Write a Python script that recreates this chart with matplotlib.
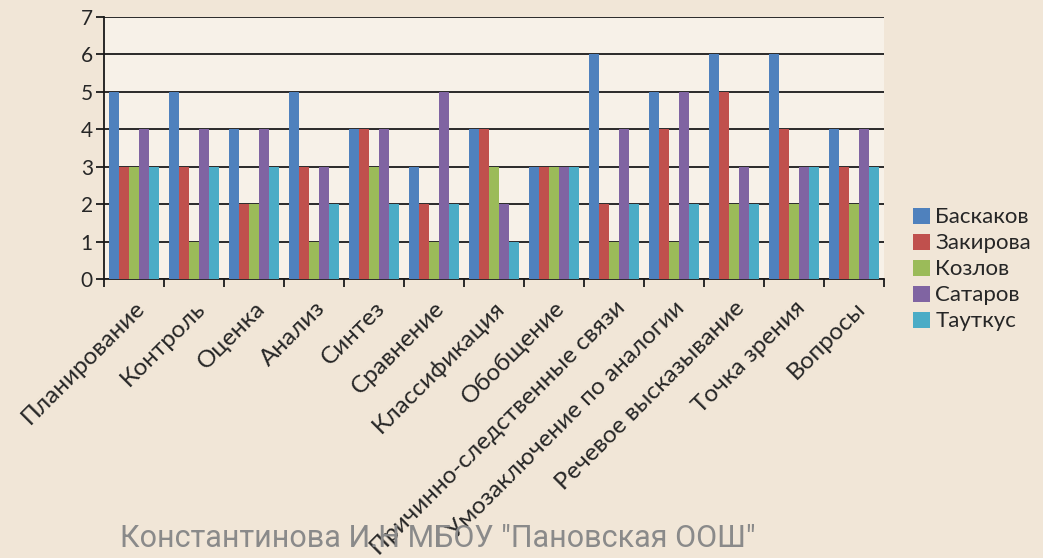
import matplotlib
matplotlib.use('Agg')
import matplotlib.pyplot as plt
import numpy as np

plt.rcParams['font.family'] = ['Lato', 'DejaVu Sans']

# === данные ===
categories = ['Планирование', 'Контроль', 'Оценка', 'Анализ', 'Синтез', 'Сравнение',
              'Классификация', 'Обобщение', 'Причинно-следственные связи',
              'Умозаключение по аналогии', 'Речевое высказывание', 'Точка зрения', 'Вопросы']
names = ['Баскаков', 'Закирова', 'Козлов', 'Сатаров', 'Тауткус']
baskakov = [5, 5, 4, 5, 4, 3, 4, 3, 6, 5, 6, 6, 4]
zakirova = [3, 3, 2, 3, 4, 2, 4, 3, 2, 4, 5, 4, 3]
kozlov   = [3, 1, 2, 1, 3, 1, 3, 3, 1, 1, 2, 2, 2]
satarov  = [4, 4, 4, 3, 4, 5, 2, 3, 4, 5, 3, 3, 4]
tautkus  = [3, 3, 3, 2, 2, 2, 1, 3, 2, 2, 2, 3, 3]
series = [baskakov, zakirova, kozlov, satarov, tautkus]
colors = ['#4F81BD', '#C0504D', '#9BBB59', '#8064A2', '#4BACC6']

fig = plt.figure(figsize=(10.43, 5.58), dpi=100)
fig.patch.set_facecolor('#f1e6d7')
ax = fig.add_axes([0.0997, 0.4995, 0.7479, 0.4700])
ax.set_facecolor('#f7f1e8')

x = np.arange(len(categories))
w = 1 / 6
for i, (vals, name, c) in enumerate(zip(series, names, colors)):
    ax.bar(x - 0.5 + w * (i + 1), vals, width=w, color=c, label=name, zorder=3)

ax.set_xlim(-0.5, len(categories) - 0.5)
ax.set_ylim(0, 7)
ax.set_yticks(range(8))
ax.yaxis.grid(True, color='#1a1a1a', linewidth=1.3, zorder=1)
ax.set_axisbelow(True)

# подписи категорий - под углом 45, деления между категориями
ax.set_xticks(np.arange(len(categories) + 1) - 0.5)
ax.set_xticklabels([])
ax.set_xticks(x, minor=True)
ax.set_xticklabels(categories, minor=True, rotation=45, ha='right', va='top',
                   rotation_mode='anchor', fontsize=17.5, color='#262626')
ax.tick_params(axis='x', which='minor', length=0, pad=13)
ax.tick_params(axis='x', which='major', length=6, width=1.3, color='#1a1a1a')
ax.tick_params(axis='y', length=6, width=1.3, color='#1a1a1a', labelsize=15,
               labelcolor='#262626', pad=2)

for s in ['top', 'right']:
    ax.spines[s].set_visible(False)
for s in ['left', 'bottom']:
    ax.spines[s].set_linewidth(1.3)
    ax.spines[s].set_color('#1a1a1a')

leg = ax.legend(loc='upper left', bbox_to_anchor=(1.026, 0.308), frameon=False,
                fontsize=16, handlelength=0.75, handleheight=0.75, handletextpad=0.25,
                labelspacing=0.27, borderaxespad=0)
for t in leg.get_texts():
    t.set_color('#262626')

fig.text(0.115, 0.02, 'Константинова И.Н МБОУ "Пановская ООШ"',
         family=['Liberation Sans Narrow', 'Roboto', 'DejaVu Sans'],
         fontsize=22, color='#8a8a8a', ha='left', va='baseline')

fig.savefig('out.png', dpi=100, facecolor=fig.get_facecolor())
